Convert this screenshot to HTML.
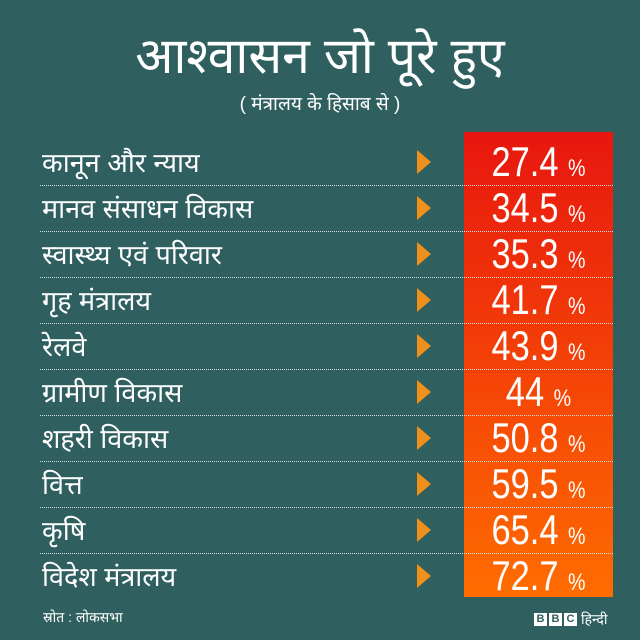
<!DOCTYPE html>
<html><head><meta charset="utf-8"><style>
body{margin:0;width:640px;height:640px;background:#2f5f5f;position:relative;overflow:hidden;font-family:"Liberation Sans","Noto Sans CJK SC",sans-serif;color:#fff}
.t{position:absolute;left:0;width:640px;text-align:center}
.box{position:absolute;left:464px;top:132px;width:149px;height:465px;background:linear-gradient(#e8160f,#ff6c00)}
.row{position:absolute;left:40px;width:573px;height:46px}
.row .l{position:absolute;left:2px;top:3px;font-size:27px;white-space:nowrap}
.row .a{position:absolute;left:377px;top:10px;width:0;height:0;border-top:12px solid transparent;border-bottom:12px solid transparent;border-left:14px solid #f0901a}
.row .v{position:absolute;left:424px;width:149px;top:-2px;text-align:center;font-size:42px;transform:scaleX(0.82)}
.row .v small{font-size:24px}
.sep{position:absolute;left:40px;width:573px;border-top:1px dotted #cfdede}
</style></head><body>
<div class="t" style="top:20px;font-size:50px">आश्वासन जो पूरे हुए</div>
<div class="t" style="top:90px;font-size:19px">( मंत्रालय के हिसाब से )</div>
<div class="box"></div>
<div class="row" style="top:140px"><div class="l">कानून और न्याय</div><div class="a"></div><div class="v">27.4 <small>%</small></div></div>
<div class="sep" style="top:185px"></div>
<div class="row" style="top:186px"><div class="l">मानव संसाधन विकास</div><div class="a"></div><div class="v">34.5 <small>%</small></div></div>
<div class="sep" style="top:231px"></div>
<div class="row" style="top:232px"><div class="l">स्वास्थ्य एवं परिवार</div><div class="a"></div><div class="v">35.3 <small>%</small></div></div>
<div class="sep" style="top:277px"></div>
<div class="row" style="top:278px"><div class="l">गृह मंत्रालय</div><div class="a"></div><div class="v">41.7 <small>%</small></div></div>
<div class="sep" style="top:323px"></div>
<div class="row" style="top:324px"><div class="l">रेलवे</div><div class="a"></div><div class="v">43.9 <small>%</small></div></div>
<div class="sep" style="top:369px"></div>
<div class="row" style="top:370px"><div class="l">ग्रामीण विकास</div><div class="a"></div><div class="v">44 <small>%</small></div></div>
<div class="sep" style="top:415px"></div>
<div class="row" style="top:416px"><div class="l">शहरी विकास</div><div class="a"></div><div class="v">50.8 <small>%</small></div></div>
<div class="sep" style="top:461px"></div>
<div class="row" style="top:462px"><div class="l">वित्त</div><div class="a"></div><div class="v">59.5 <small>%</small></div></div>
<div class="sep" style="top:507px"></div>
<div class="row" style="top:508px"><div class="l">कृषि</div><div class="a"></div><div class="v">65.4 <small>%</small></div></div>
<div class="sep" style="top:553px"></div>
<div class="row" style="top:554px"><div class="l">विदेश मंत्रालय</div><div class="a"></div><div class="v">72.7 <small>%</small></div></div>
<div style="position:absolute;left:43px;top:608px;font-size:14px">स्रोत : लोकसभा</div>
<div style="position:absolute;left:534px;top:610px;font-size:14px;display:flex;gap:2px;align-items:center">
<span style="background:#fff;color:#2f5f5f;font-weight:bold;font-size:11px;width:13px;height:13px;text-align:center;line-height:13px">B</span>
<span style="background:#fff;color:#2f5f5f;font-weight:bold;font-size:11px;width:13px;height:13px;text-align:center;line-height:13px">B</span>
<span style="background:#fff;color:#2f5f5f;font-weight:bold;font-size:11px;width:13px;height:13px;text-align:center;line-height:13px">C</span>
<span style="margin-left:2px">हिन्दी</span></div>
</body></html>
